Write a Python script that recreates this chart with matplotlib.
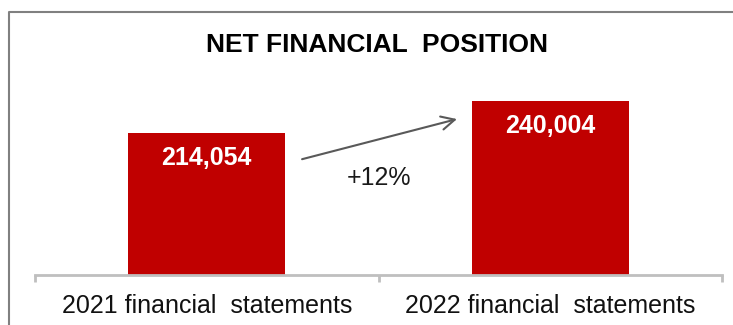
import matplotlib.pyplot as plt
from matplotlib.lines import Line2D

# Net financial position (EUR thousands)
categories = ['2021 financial  statements', '2022 financial  statements']
values = [214054, 240004]
value_labels = ['214,054', '240,004']
title = 'NET FINANCIAL  POSITION'

bar_color = '#C00000'
axis_color = '#BFBFBF'
px = 0.72  # points per pixel at dpi 100

plt.rcParams['font.family'] = ['Liberation Sans', 'DejaVu Sans']

fig = plt.figure(figsize=(7.33, 3.25), dpi=100)
ax = fig.add_axes([35 / 733, 50 / 325, 687 / 733, 224 / 325])

x = list(range(len(categories)))
bar_width = 0.457
ax.bar(x, values, width=bar_width, color=bar_color, zorder=2)
ax.set_xlim(-0.5, len(categories) - 0.5)
ax.set_ylim(100000, 280000)

# value labels inside the bars
for xi, v, lab in zip(x, values, value_labels):
    ax.annotate(lab, (xi, v), xytext=(0, -25 * px), textcoords='offset points',
                ha='center', va='center', color='white', fontsize=18,
                fontweight='bold')

# growth arrow between the bars
growth = (values[1] / values[0] - 1) * 100
ax.annotate('', xy=(x[1] - bar_width / 2 - 0.043, values[1] - 14700),
            xytext=(x[0] + bar_width / 2 + 0.049, values[0] - 21000),
            arrowprops=dict(arrowstyle='->', color='#595959', lw=1.5,
                            mutation_scale=24, shrinkA=0, shrinkB=0))
ax.annotate(f'+{growth:.0f}%', ((x[0] + x[1]) / 2, values[0] - 21000),
            xytext=(0, -19 * px), textcoords='offset points',
            ha='center', va='center', fontsize=18, color='#1a1a1a')

# category axis: baseline with ticks between categories
for side in ['left', 'right', 'top']:
    ax.spines[side].set_visible(False)
ax.spines['bottom'].set_color(axis_color)
ax.spines['bottom'].set_linewidth(2)
ax.set_yticks([])
ax.set_xticks([-0.5, 0.5, 1.5])
ax.set_xticklabels([])
ax.tick_params(axis='x', which='major', direction='out', length=7 * px,
               width=2, color=axis_color)
ax.set_xticks(x, minor=True)
ax.set_xticklabels(categories, minor=True, fontsize=18, color='#111111')
ax.tick_params(axis='x', which='minor', length=0, pad=14)

fig.text(377 / 733, 1 - 45 / 325, title, ha='center', va='center',
         fontsize=19, fontweight='bold', color='black')

# outer frame, open towards the right and bottom
fy = 1 - 12 / 325
fig.add_artist(Line2D([9 / 733, 9 / 733, 1.0], [0.0, fy, fy],
                      color='#808080', lw=1.5, solid_capstyle='butt',
                      transform=fig.transFigure))

fig.savefig('out.png', dpi=100)
